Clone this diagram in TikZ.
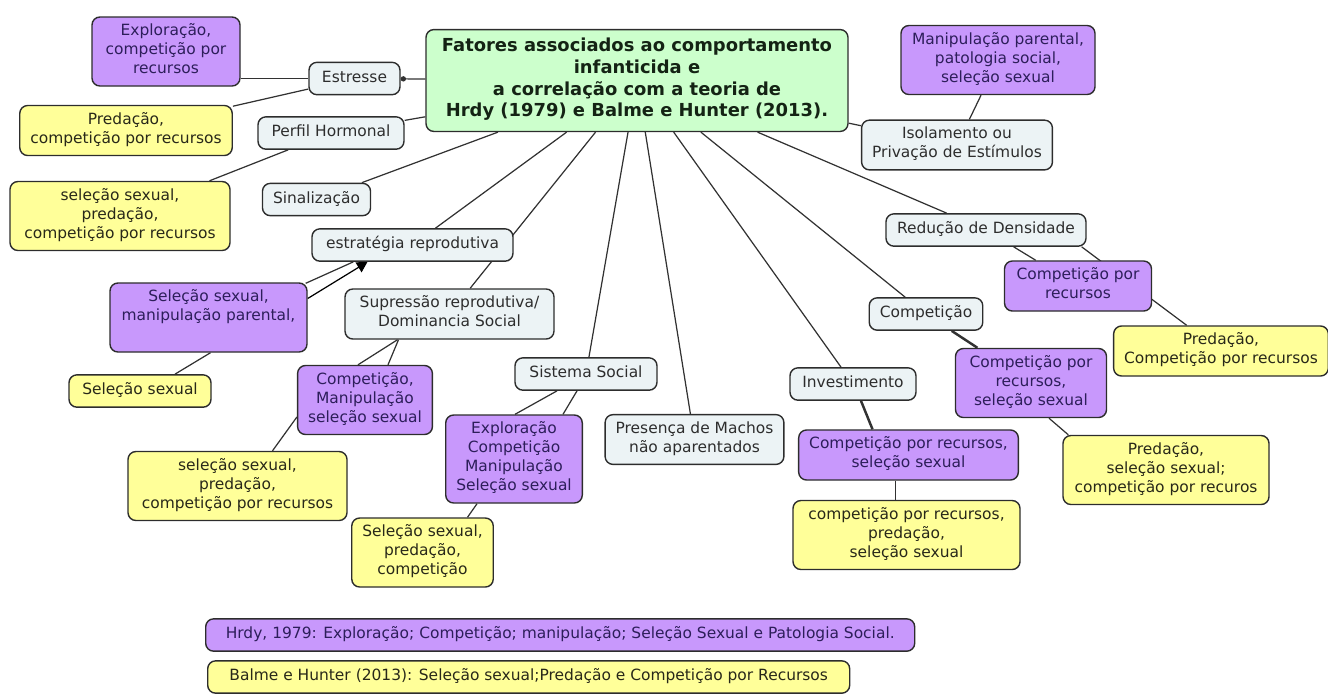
\documentclass[tikz,border=0pt]{standalone}
\usepackage{fontspec}
\setmainfont{DejaVu Sans}
\usetikzlibrary{positioning, backgrounds, calc, arrows.meta}

\definecolor{topicgreen}{RGB}{204,255,204}
\definecolor{hrdypurple}{RGB}{200,152,252}
\definecolor{balmeyellow}{RGB}{255,255,153}
\definecolor{conceptgray}{RGB}{236,243,245}
\definecolor{boxline}{RGB}{45,45,45}
\definecolor{linkgray}{RGB}{50,50,50}
\definecolor{hrdyink}{RGB}{45,30,90}
\definecolor{inkgray}{RGB}{45,45,45}
\definecolor{balmeink}{RGB}{40,40,25}
\definecolor{topicink}{RGB}{20,35,20}

\begin{document}
\begin{tikzpicture}[x=0.02cm, y=-0.02cm,
    box/.style={draw=boxline, line width=0.8pt, rounded corners=4.5pt, align=center,
      font=\fontsize{8.8}{10.8}\selectfont, inner xsep=6pt, inner ysep=3.8pt,
      execute at begin node=\strut, execute at end node=\strut},
    boxw/.style={minimum width=#1*0.02cm},
    concept/.style={box, fill=conceptgray, text=inkgray},
    hrdy/.style={box, fill=hrdypurple, text=hrdyink},
    balme/.style={box, fill=balmeyellow, text=balmeink},
    topic/.style={box, fill=topicgreen, text=topicink,
      font=\bfseries\fontsize{10.2}{12.5}\selectfont, inner ysep=4.5pt},
    link/.style={draw=linkgray, line width=0.7pt},
    heavy/.style={link, line width=1.4pt}]
  \useasboundingbox (0,0) rectangle (1328,694);

  % central concept
  \node[topic, boxw=422] (title) at (637,80.5) {Fatores associados ao comportamento\\infanticida e\\a correlação com a teoria de\\Hrdy (1979) e Balme e Hunter (2013).};

  % left branch
  \node[concept, boxw=91] (estresse) at (354.5,78.5) {Estresse};
  \node[hrdy, boxw=148] (explor) at (166,51.5) {Exploração,\\competição por\\recursos};
  \node[balme, boxw=208] (predacao) at (126,130.5) {Predação,\\competição por recursos};
  \node[concept, boxw=146] (perfil) at (331,133) {Perfil Hormonal};
  \node[balme, boxw=220] (selpredA) at (120,216) {seleção sexual,\\predação,\\competição por recursos};
  \node[concept, boxw=107] (sinal) at (316.5,199.5) {Sinalização};
  \node[concept, boxw=201] (estrat) at (412.5,245) {estratégia reprodutiva};
  \node[hrdy, boxw=197] (selmanip) at (208.5,317.5) {Seleção sexual,\\manipulação parental,\\\mbox{}};
  \node[balme, boxw=142] (selsex) at (140,391) {Seleção sexual};
  \node[concept, boxw=209] (supr) at (449.5,314) {Supressão reprodutiva/\\Dominancia Social};
  \node[hrdy, boxw=134] (compman) at (365,400) {Competição,\\Manipulação\\seleção sexual};
  \node[balme, boxw=219] (selpredB) at (237.5,486) {seleção sexual,\\predação,\\competição por recursos};

  % middle branch
  \node[concept, boxw=142] (sist) at (586,374) {Sistema Social};
  \node[hrdy, boxw=136] (explcomp) at (514,459) {Exploração\\Competição\\Manipulação\\Seleção sexual};
  \node[balme, boxw=141] (selpredC) at (422.5,552.5) {Seleção sexual,\\predação,\\competição};
  \node[concept, boxw=177] (presenca) at (694.5,439.5) {Presença de Machos\\não aparentados};
  \node[concept, boxw=126] (invest) at (853,384) {Investimento};
  \node[hrdy, boxw=219] (invcomp) at (908.5,455) {Competição por recursos,\\seleção sexual};
  \node[balme, boxw=227] (invpred) at (906.5,535) {competição por recursos,\\predação,\\seleção sexual};

  % right branch
  \node[concept, boxw=111] (compet) at (926,314) {Competição};
  \node[hrdy, boxw=151] (compsel) at (1031,383) {Competição por\\recursos,\\seleção sexual};
  \node[balme, boxw=206] (predsel) at (1166,470) {Predação,\\seleção sexual;\\competição por recuros};
  \node[concept, boxw=200] (reduc) at (986,230) {Redução de Densidade};
  \node[hrdy, boxw=147] (comprec) at (1078,286) {Competição por\\recursos};
  \node[balme, boxw=208] (predcomp) at (1221,351) {Predação,\\Competição por recursos};
  \node[concept, boxw=190] (isol) at (957,145) {Isolamento ou\\Privação de Estímulos};
  \node[hrdy, boxw=194] (manip) at (998,60) {Manipulação parental,\\patologia social,\\seleção sexual};

  % legend
  \node[hrdy, boxw=709, anchor=west] (hrdyleg) at (205,635) {Hrdy, 1979: Exploração; Competição; manipulação; Seleção Sexual e Patologia Social.};
  \node[balme, boxw=642, anchor=west] (balmeleg) at (207,677) {Balme e Hunter (2013): Seleção sexual;Predação e Competição por Recursos};

  \begin{scope}[on background layer]
    \path (title) edge[link, -{Circle[length=3pt]}] (estresse);
    \path (title) edge[link] (perfil);
    \path (title) edge[link] (sinal);
    \path (title) edge[link] (estrat);
    \path (title) edge[link] (supr);
    \path (title) edge[link] (sist);
    \path (title) edge[link] (presenca);
    \path (title) edge[link] (invest);
    \path (title) edge[link] (compet);
    \path (title) edge[link] (reduc);
    \path (title) edge[link] (isol);

    \path (estresse) edge[link] (estresse -| explor.east);
    \path (estresse) edge[link] (predacao);
    \path (perfil) edge[link] (selpredA);
    \path ($(selmanip.north east)+(-2,1)$) edge[link] ($(estrat.south west)+(42,0)$);
    \path ($(selmanip.east)+(0,-19)$) edge[link, draw=black, -{Triangle[length=6pt, width=6.5pt]}] ($(estrat.south)+(-45,0)$);
    \path ($(selmanip.south)+(2,0)$) edge[link] ($(selsex.north)+(35,0)$);
    \path ($(supr.south)+(-52,0)$) edge[link] ($(compman.north)+(-7,0)$);
    \path ($(supr.south)+(-51,0)$) edge[link] ($(compman.north)+(23,0)$);
    \path ($(compman.west)+(0,17)$) edge[link] ($(selpredB.north)+(35,0)$);

    \path ($(sist.south)+(-29,0)$) edge[link] ($(explcomp.north)+(1,0)$);
    \path ($(sist.south)+(-9,0)$) edge[link] ($(explcomp.north)+(49,0)$);
    \path ($(explcomp.south)+(-37,0)$) edge[link] ($(selpredC.north)+(45,0)$);
    \path ($(invest.south)+(8,0)$) edge[heavy] ($(invcomp.north)+(-36,0)$);
    \path ($(invcomp.south)+(-13,0)$) edge[link] ($(invpred.north)+(-11,0)$);

    \path (compet) edge[heavy] (compsel);
    \path ($(compsel.south)+(18,0)$) edge[link] ($(predsel.north west)+(6,0)$);
    \path (reduc) edge[link] (comprec);
    \path ($(reduc.south east)+(-5,0)$) edge[link] (predcomp);
    \path (isol) edge[link] (manip);
  \end{scope}
\end{tikzpicture}
\end{document}
